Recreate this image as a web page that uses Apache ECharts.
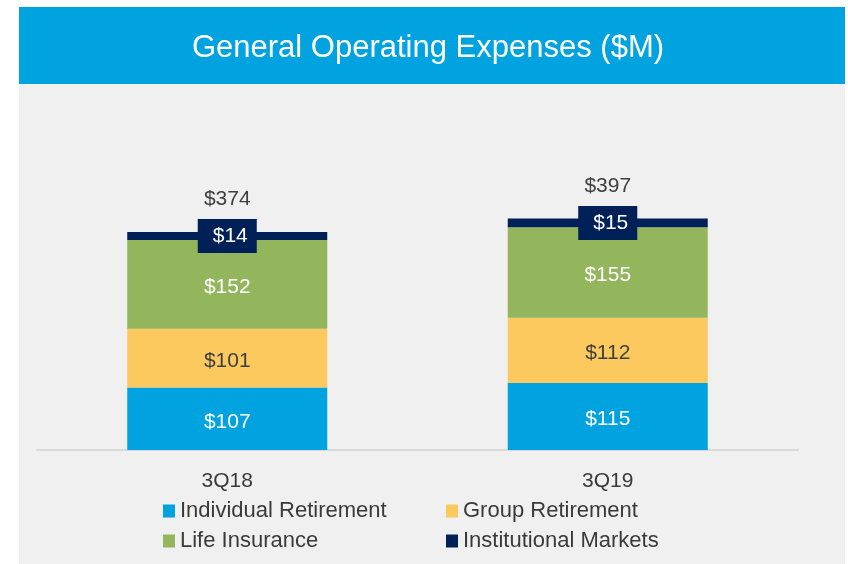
<!DOCTYPE html>
<html>
<head>
<meta charset="utf-8">
<title>General Operating Expenses</title>
<script src="https://cdn.jsdelivr.net/npm/echarts@6/dist/echarts.min.js"></script>
<style>
  html, body { margin: 0; padding: 0; background: #ffffff; }
  #chart { width: 848px; height: 564px; }
</style>
</head>
<body>
<div id="chart"></div>
<script>
var quarters = ['3Q18', '3Q19'];
var individualRetirement = [107, 115];
var groupRetirement = [101, 112];
var lifeInsurance = [152, 155];
var institutionalMarkets = [14, 15];
var totals = [374, 397];

var seriesNames = ['Individual Retirement', 'Group Retirement', 'Life Insurance', 'Institutional Markets'];
var seriesColors = ['#00a3e0', '#fbc95e', '#93b55b', '#002157'];
var FONT = '"Liberation Sans", Arial, sans-serif';

var chart = echarts.init(document.getElementById('chart'));

function dollar(p) {
    return '$' + p.value;
}

function segment(i, data, labelColor) {
    return {
        name: seriesNames[i],
        type: 'bar',
        stack: 'goe',
        barWidth: 200,
        itemStyle: { color: seriesColors[i] },
        label: {
            show: true,
            position: 'inside',
            offset: [0, 3],
            color: labelColor,
            fontFamily: FONT,
            fontSize: 21,
            formatter: dollar
        },
        data: data
    };
}

var series = [
    segment(0, individualRetirement, '#ffffff'),
    segment(1, groupRetirement, '#404040'),
    segment(2, lifeInsurance, '#ffffff'),
    segment(3, institutionalMarkets, '#ffffff')
];
// $14 / $15 sit in a navy box across the thin top segment
series[3].label.backgroundColor = '#002157';
series[3].label.padding = [7, 9, 6, 15];
series[3].label.offset = [0, 0];

// total above each stack
series.push({
    name: 'Total',
    type: 'bar',
    stack: 'goe',
    barWidth: 200,
    itemStyle: { color: 'transparent' },
    label: {
        show: true,
        position: 'top',
        distance: 22,
        color: '#404040',
        fontFamily: FONT,
        fontSize: 21,
        formatter: function (p) { return '$' + totals[p.dataIndex]; }
    },
    data: quarters.map(function () { return 0; })
});

function legendColumn(left, names) {
    return {
        orient: 'vertical',
        left: left,
        top: 500,
        padding: 0,
        itemGap: 8,
        itemWidth: 12,
        itemHeight: 13,
        icon: 'rect',
        selectedMode: false,
        textStyle: { color: '#3a3a3a', fontFamily: FONT, fontSize: 22 },
        data: names
    };
}

chart.setOption({
    animation: false,
    graphic: [
        { type: 'rect', z: -10, shape: { x: 19, y: 7, width: 826, height: 77 }, style: { fill: '#00a3e0' } },
        { type: 'rect', z: -10, shape: { x: 19, y: 84, width: 826, height: 480 }, style: { fill: '#f0f0f0' } }
    ],
    title: {
        text: 'General Operating Expenses ($M)',
        left: 428,
        top: 33,
        padding: 0,
        textAlign: 'center',
        textStyle: { color: '#ffffff', fontFamily: FONT, fontSize: 31, fontWeight: 'normal' }
    },
    legend: [
        legendColumn(163, ['Individual Retirement', 'Life Insurance']),
        legendColumn(446, ['Group Retirement', 'Institutional Markets'])
    ],
    grid: {
        left: 37,
        right: 50,
        top: 158.5,
        bottom: 114
    },
    xAxis: {
        type: 'category',
        data: quarters,
        axisTick: { show: false },
        axisLine: { lineStyle: { color: '#d9d9d9', width: 2 } },
        axisLabel: { color: '#3a3a3a', fontFamily: FONT, fontSize: 21, margin: 21 }
    },
    yAxis: {
        type: 'value',
        min: 0,
        max: 500,
        show: false,
        splitLine: { show: false }
    },
    series: series
});
</script>
</body>
</html>
